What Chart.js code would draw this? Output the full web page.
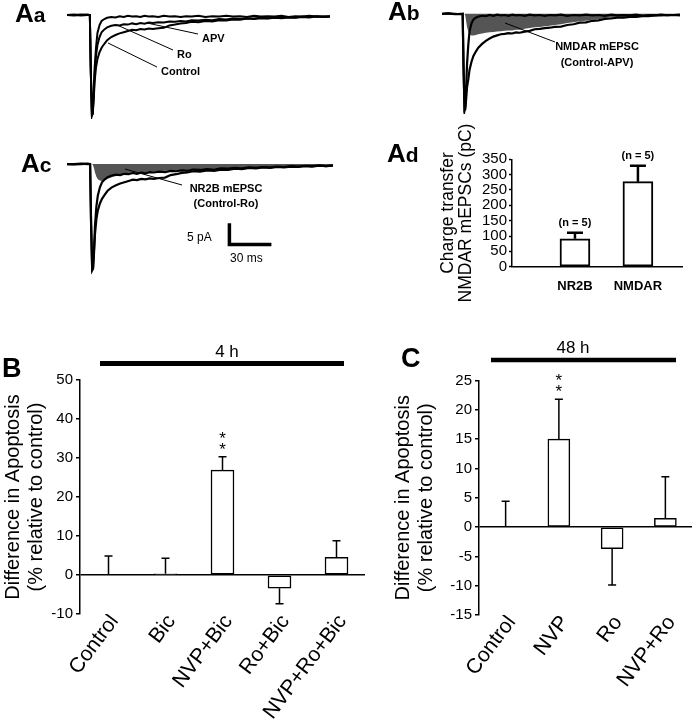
<!DOCTYPE html>
<html>
<head>
<meta charset="utf-8">
<script src="https://cdn.jsdelivr.net/npm/chart.js@4/dist/chart.umd.min.js"></script>
<style>
  body { margin: 0; background: #fff; }
  #fig { position: relative; width: 692px; height: 720px; }
  canvas { position: absolute; }
</style>
</head>
<body>
<div id="fig">
  <canvas id="aa" width="346" height="130" style="left:0;top:0"></canvas>
  <canvas id="ab" width="322" height="130" style="left:370px;top:0"></canvas>
  <canvas id="ac" width="346" height="150" style="left:0;top:130px"></canvas>
  <canvas id="ad" width="312" height="200" style="left:380px;top:110px"></canvas>
  <canvas id="b" width="370" height="390" style="left:0;top:330px"></canvas>
  <canvas id="c" width="342" height="390" style="left:350px;top:330px"></canvas>
</div>
<script>
// mEPSC traces (ms, pA)
const traceTime = [0, 5, 10, 15, 16.5, 17.2, 18, 18.6, 19.3, 20, 21, 22, 23.5, 25, 27, 29, 32, 35, 38, 41,
  44, 47, 50, 53, 56, 59, 62, 66, 70, 74, 78, 82, 86, 90, 95, 100, 105, 110, 115, 120,
  125, 130, 135, 140, 145, 150, 155, 160, 165, 170, 175, 180, 185, 190];
const controlTrace = [0, -0.1, 0, 0.1, 0, -14, -25, -24.8, -21, -16.5, -13, -11, -9.3, -8.2, -7.2, -6.3, -5.5, -5.0, -4.6, -4.3,
  -4.0, -3.7, -3.8, -3.5, -3.6, -3.4, -3.5, -3.3, -3.2, -2.6, -2.4, -2.1, -2.0, -1.7, -1.8, -1.5, -1.6, -1.3, -1.4, -1.1,
  -1.2, -0.9, -1.0, -0.8, -0.9, -0.7, -0.8, -0.6, -0.7, -0.5, -0.6, -0.4, -0.5, -0.4];
const roTrace = [0, 0, 0.1, 0, 0, -14, -25, -24.5, -20, -14.5, -10, -7.5, -5.5, -4.3, -3.6, -3.1, -2.7, -2.5, -2.6, -2.3,
  -2.4, -2.1, -2.3, -2.0, -2.2, -1.9, -2.0, -1.8, -1.9, -1.6, -1.7, -1.5, -1.6, -1.3, -1.4, -1.2, -1.3, -1.0, -1.1, -0.9,
  -1.0, -0.8, -0.9, -0.7, -0.8, -0.6, -0.7, -0.5, -0.6, -0.4, -0.5, -0.3, -0.5, -0.3];
const apvTrace = [0, 0.1, -0.1, 0, 0, -14, -25, -24, -19, -13, -8, -4.5, -2.5, -1.5, -1.0, -0.7, -0.5, -0.6, -0.3, -0.5,
  -0.2, -0.4, -0.3, -0.5, -0.2, -0.4, -0.3, -0.5, -0.2, -0.4, -0.3, -0.5, -0.3, -0.4, -0.2, -0.5, -0.3, -0.4, -0.2, -0.4,
  -0.3, -0.5, -0.2, -0.4, -0.3, -0.4, -0.2, -0.5, -0.3, -0.4, -0.2, -0.4, -0.3, -0.4];
// control trace as drawn in Ab
const abControlTrace = [0, 0.1, 0, -0.1, 0, -14, -25, -24.8, -22, -19, -17, -14.5, -12.5, -11, -9.8, -8.8, -7.8, -7.0, -6.4, -5.9,
  -5.6, -5.3, -5.2, -5.0, -5.1, -4.8, -4.9, -4.6, -4.4, -4.0, -3.9, -3.7, -3.6, -3.4, -3.3, -2.9, -2.7, -2.3, -2.2, -1.8,
  -1.7, -1.3, -1.2, -1.0, -1.0, -0.8, -0.8, -0.6, -0.6, -0.4, -0.4, -0.3, -0.3, -0.2];
const nmdarDiff = [0, 0, 0, 0, 0, 0, 0, -0.5, -2, -3.5, -4.5, -5.3, -5.6, -5.6, -5.5, -5.3, -5.1, -4.9, -4.8, -4.7,
  -4.6, -4.5, -4.4, -4.3, -4.3, -4.1, -4.1, -3.9, -3.7, -3.5, -3.4, -3.2, -3.1, -2.9, -2.7, -2.4, -2.2, -1.9, -1.8, -1.5,
  -1.4, -1.1, -1.0, -0.8, -0.8, -0.6, -0.6, -0.4, -0.4, -0.3, -0.3, -0.2, -0.2, -0.1];
const nr2bDiff = [0, 0, 0, 0, 0, 0, 0, -0.3, -1, -2, -3, -3.6, -3.9, -4.0, -3.8, -3.5, -3.1, -2.8, -2.5, -2.3,
  -2.1, -2.0, -2.0, -1.9, -1.9, -1.8, -1.8, -1.7, -1.6, -1.5, -1.5, -1.4, -1.4, -1.3, -1.2, -1.2, -1.1, -1.0, -1.0, -0.9,
  -0.9, -0.8, -0.8, -0.7, -0.6, -0.6, -0.5, -0.5, -0.5, -0.4, -0.4, -0.3, -0.3, -0.3];

// Ad: charge transfer (pC)
const chargeCats = ['NR2B', 'NMDAR'];
const chargeValues = [91, 277];
const chargeErrors = [20, 52];
const chargeN = ['(n = 5)', '(n = 5)'];
const chargeTicks = [0, 50, 100, 150, 200, 250, 300, 350];

// B: 4 h
const bCats = ['Control', 'Bic', 'NVP+Bic', 'Ro+Bic', 'NVP+Ro+Bic'];
const bValues = [0, 0.3, 26.9, -3.4, 4.5];
const bErrors = [4.9, 4.0, 3.4, 4.0, 4.3];
const bStars = ['', '', '**', '', ''];

// C: 48 h
const cCats = ['Control', 'NVP', 'Ro', 'NVP+Ro'];
const cValues = [0, 15, -3.7, 1.5];
const cErrors = [4.4, 6.8, 6.2, 7.1];
const cStars = ['', '**', '', ''];

const FONT = "'Liberation Sans', Arial, sans-serif";
Chart.defaults.font.family = FONT;
Chart.defaults.color = '#000';

const pts = ys => traceTime.map((t, i) => ({x: t, y: ys[i]}));

function text(ctx, s, x, y, font, align) {
  ctx.font = font;
  ctx.textAlign = align || 'left';
  ctx.textBaseline = 'alphabetic';
  ctx.fillText(s, x, y);
}
function line(ctx, x1, y1, x2, y2, w) {
  ctx.lineWidth = w || 1;
  ctx.beginPath(); ctx.moveTo(x1, y1); ctx.lineTo(x2, y2); ctx.stroke();
}
function panel(ctx, big, small, x, y, size) {
  text(ctx, big, x, y, 'bold ' + size + 'px ' + FONT);
  if (small) {
    const w = ctx.measureText(big).width;
    text(ctx, small, x + w, y, 'bold ' + Math.round(size * 0.8) + 'px ' + FONT);
  }
}
function overlay(draw) {
  return {
    id: 'overlay',
    afterDraw(chart) {
      const ctx = chart.ctx;
      ctx.save();
      ctx.fillStyle = '#000';
      ctx.strokeStyle = '#000';
      draw(ctx, chart);
      ctx.restore();
    }
  };
}

function traceChart(id, pad, width, datasets, draw) {
  datasets.forEach(d => {
    d.pointRadius = 0;
    d.tension = 0;
    if (!d.fill) { d.borderColor = '#000'; d.borderWidth = width; d.fill = false; }
  });
  return new Chart(document.getElementById(id), {
    type: 'line',
    data: {datasets},
    options: {
      responsive: false, animation: false, devicePixelRatio: 1,
      layout: {padding: pad},
      plugins: {legend: {display: false}, tooltip: {enabled: false}},
      scales: {
        x: {type: 'linear', min: 0, max: 190, display: false},
        y: {min: -26, max: 1, display: false}
      }
    },
    plugins: [overlay(draw)]
  });
}

const diffFill = ys => ({data: pts(ys), fill: 'origin', backgroundColor: '#555', borderWidth: 0, order: 1});

// Aa
traceChart('aa', {left: 67, right: 16, top: 11, bottom: 11}, 2,
  [{data: pts(controlTrace)}, {data: pts(roTrace)}, {data: pts(apvTrace)}],
  ctx => {
    panel(ctx, 'A', 'a', 15, 22, 26);
    const f = 'bold 11px ' + FONT;
    text(ctx, 'APV', 202, 42, f);
    text(ctx, 'Ro', 177, 58, f);
    text(ctx, 'Control', 161, 75, f);
    line(ctx, 147, 23, 198, 34);
    line(ctx, 117, 25, 173, 50);
    line(ctx, 108, 43, 157, 67);
  });

// Ab
traceChart('ab', {left: 72, right: 12, top: 10, bottom: 16}, 2.2,
  [{data: pts(abControlTrace)}, {data: pts(apvTrace)}, diffFill(nmdarDiff)],
  ctx => {
    panel(ctx, 'A', 'b', 18, 20, 26);
    const f = 'bold 11px ' + FONT;
    text(ctx, 'NMDAR mEPSC', 227, 50, f, 'center');
    text(ctx, '(Control-APV)', 227, 66, f, 'center');
    line(ctx, 135, 23, 185, 42);
  });

// Ac
traceChart('ac', {left: 67, right: 13, top: 29.8, bottom: 5.8}, 2.2,
  [{data: pts(controlTrace)}, {data: pts(roTrace)}, diffFill(nr2bDiff)],
  (ctx, chart) => {
    panel(ctx, 'A', 'c', 21, 42, 26);
    const f = 'bold 11px ' + FONT;
    text(ctx, 'NR2B mEPSC', 226, 62, f, 'center');
    text(ctx, '(Control-Ro)', 226, 77, f, 'center');
    line(ctx, 125, 39, 182, 55);
    // scale bar: 30 ms x 5 pA
    const sx = chart.scales.x, sy = chart.scales.y;
    const x0 = sx.getPixelForValue(116), x1 = sx.getPixelForValue(116 + 30);
    const y0 = sy.getPixelForValue(-19), y1 = sy.getPixelForValue(-19 + 5);
    ctx.lineWidth = 3.5;
    ctx.lineJoin = 'miter';
    ctx.beginPath(); ctx.moveTo(x0, y1); ctx.lineTo(x0, y0); ctx.lineTo(x1, y0); ctx.stroke();
    text(ctx, '5 pA', 187, 111, '12px ' + FONT);
    text(ctx, '30 ms', 230, 132, '12px ' + FONT);
  });

// error bars, stars and n labels
const errorBars = {
  id: 'errorBars',
  afterDatasetsDraw(chart) {
    const ctx = chart.ctx, ys = chart.scales.y;
    const ds = chart.data.datasets[0];
    const o = ds.err;
    ctx.save();
    ctx.strokeStyle = '#000';
    ctx.fillStyle = '#000';
    chart.getDatasetMeta(0).data.forEach((bar, i) => {
      const raw = ds.data[i];
      const v = typeof raw === 'object' ? raw.y : raw;
      const end = v >= 0 ? v + o.errors[i] : v - o.errors[i];
      const y0 = ys.getPixelForValue(v), y1 = ys.getPixelForValue(end);
      ctx.lineWidth = o.width;
      ctx.beginPath();
      ctx.moveTo(bar.x, y0); ctx.lineTo(bar.x, y1);
      ctx.moveTo(bar.x - o.cap / 2, y1); ctx.lineTo(bar.x + o.cap / 2, y1);
      ctx.stroke();
      if (o.stars && o.stars[i]) {
        [...o.stars[i]].forEach((s, k) => text(ctx, s, bar.x, y1 - 2 - k * 11, '17px ' + FONT, 'center'));
      }
      if (o.notes && o.notes[i]) {
        text(ctx, o.notes[i], bar.x, y1 - 7, 'bold 11px ' + FONT, 'center');
      }
    });
    ctx.restore();
  }
};

// Ad
new Chart(document.getElementById('ad'), {
  type: 'bar',
  data: {
    datasets: [{
      data: chargeValues.map((v, i) => ({x: i + 1, y: v})),
      err: {errors: chargeErrors, notes: chargeN, width: 2.5, cap: 16},
      backgroundColor: '#fff', borderColor: '#000', borderWidth: 2,
      borderSkipped: false, barThickness: 30
    }]
  },
  options: {
    responsive: false, animation: false, devicePixelRatio: 1,
    layout: {padding: {left: 58, top: 49.3, right: 10, bottom: 0}},
    plugins: {legend: {display: false}, tooltip: {enabled: false}},
    scales: {
      x: {
        type: 'linear', min: 0, max: 2.7, offset: false,
        grid: {display: false},
        border: {display: true, color: '#000', width: 1.5},
        ticks: {stepSize: 1, autoSkip: false, maxRotation: 0, padding: 4, font: {size: 13, weight: 'bold'},
          callback: v => Number.isInteger(v) && v > 0 ? (chargeCats[v - 1] || '') : ''},
        afterFit(s) { s.height = 43.3; }
      },
      y: {
        min: 0, max: 350,
        afterBuildTicks(s) { s.ticks = chargeTicks.map(v => ({value: v})); },
        ticks: {autoSkip: false, font: {size: 15}, padding: 2},
        border: {display: true, color: '#000', width: 1.5},
        grid: {drawOnChartArea: false, tickLength: 3, tickColor: '#000', tickWidth: 1.5},
        title: {display: true, text: ['Charge transfer', 'NMDAR mEPSCs (pC)'], font: {size: 17.5, lineHeight: 1.03},
          padding: {top: 1, bottom: 0}},
        afterFit(s) { s.width = 74; }
      }
    }
  },
  plugins: [errorBars, overlay(ctx => panel(ctx, 'A', 'd', 7, 52, 26))]
});

// B and C
function apoptosisChart(id, cats, values, errors, stars, yMin, yMax, step, pad, yWidth, xHeight, barW, draw) {
  return new Chart(document.getElementById(id), {
    type: 'bar',
    data: {
      labels: cats,
      datasets: [{
        data: values,
        err: {errors, stars, width: 1.5, cap: 8},
        backgroundColor: '#fff', borderColor: '#000', borderWidth: 1.5,
        borderSkipped: false, barThickness: barW
      }]
    },
    options: {
      responsive: false, animation: false, devicePixelRatio: 1,
      layout: {padding: pad},
      plugins: {legend: {display: false}, tooltip: {enabled: false}},
      scales: {
        x: {
          grid: {display: false},
          border: {display: false},
          ticks: {autoSkip: false, minRotation: 53, maxRotation: 53, padding: -12, labelOffset: 6, font: {size: 21}},
          afterFit(s) { s.height = xHeight; }
        },
        y: {
          min: yMin, max: yMax,
          ticks: {stepSize: step, autoSkip: false, font: {size: 15}, padding: 3},
          border: {display: true, color: '#000', width: 1.5},
          grid: {
            color: c => c.tick && c.tick.value === 0 ? '#000' : 'rgba(0,0,0,0)',
            lineWidth: 1.5, tickLength: 4, tickColor: '#000', tickWidth: 1.5
          },
          title: {display: true, text: ['Difference in Apoptosis', '(% relative to control)'],
            font: {size: 20, lineHeight: 1.15}, padding: {top: 1.5, bottom: 0}},
          afterFit(s) { s.width = yWidth; }
        }
      }
    },
    plugins: [errorBars, overlay(draw)]
  });
}

apoptosisChart('b', bCats, bValues, bErrors, bStars, -10, 50, 10,
  {left: 0, top: 50, right: 5, bottom: 0}, 80, 106, 23,
  ctx => {
    panel(ctx, 'B', '', 2, 47, 27);
    text(ctx, '4 h', 227, 27, '17px ' + FONT, 'center');
    line(ctx, 100, 33.5, 344, 33.5, 5);
  });

apoptosisChart('c', cCats, cValues, cErrors, cStars, -15, 25, 5,
  {left: 40, top: 50.5, right: 0, bottom: 0}, 89, 105, 22,
  ctx => {
    panel(ctx, 'C', '', 51, 37, 27);
    text(ctx, '48 h', 223, 23, '17px ' + FONT, 'center');
    line(ctx, 141, 30, 326, 30, 4.5);
  });
</script>
</body>
</html>
